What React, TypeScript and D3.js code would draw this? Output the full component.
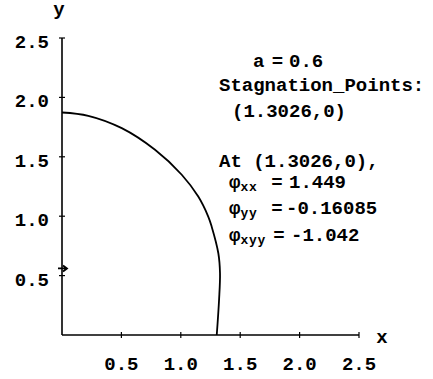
import React from "react";
import * as d3 from "d3";

// Body contour (first quadrant) for a = 0.6
const contourX = [0, 0.221, 0.503, 0.783, 1.008, 1.147, 1.231, 1.26, 1.316, 1.33, 1.322, 1.3026];
const contourY = [1.873, 1.845, 1.741, 1.559, 1.349, 1.165, 0.997, 0.912, 0.688, 0.52, 0.295, 0];

const xTicks = [0.5, 1.0, 1.5, 2.0, 2.5];
const yTicks = [0.5, 1.0, 1.5, 2.0, 2.5];
const flowArrowY = 0.56;

const W = 433;
const H = 379;
const FONT = "'Liberation Mono', 'Courier New', monospace";

export default function App() {
  const x = d3.scaleLinear().domain([0, 2.5]).range([62, 359]);
  const y = d3.scaleLinear().domain([0, 2.5]).range([335, 38]);

  const pts = contourX.map((v, i) => [v, contourY[i]] as [number, number]);
  const line = d3
    .line<[number, number]>()
    .x((d) => x(d[0]))
    .y((d) => y(d[1]))
    .curve(d3.curveCatmullRom.alpha(0.5));

  const ay = y(flowArrowY);
  const x0 = x(0);

  const txt = { fontFamily: FONT, fontWeight: 700, fontSize: 19, fill: "#000" } as const;
  const sub = { fontSize: 13, letterSpacing: 0.8 } as const;

  return (
    <div style={{ position: "absolute", left: 0, top: 0 }}>
      <svg width={W} height={H} style={{ display: "block", background: "#fff" }}>
        {/* axes */}
        <line x1={x(0)} x2={x(2.5)} y1={y(0)} y2={y(0)} stroke="#000" strokeWidth={1.6} />
        <line x1={x(0)} x2={x(0)} y1={y(0)} y2={y(2.5)} stroke="#000" strokeWidth={1.6} />
        {xTicks.map((t) => (
          <g key={"xt" + t}>
            <line x1={x(t)} x2={x(t)} y1={y(0) - 3} y2={y(0) + 3} stroke="#000" strokeWidth={1.2} />
            <text {...txt} x={x(t)} y={370} textAnchor="middle">
              {t.toFixed(1)}
            </text>
          </g>
        ))}
        {yTicks.map((t) => (
          <g key={"yt" + t}>
            <line x1={x(0) - 3} x2={x(0) + 3} y1={y(t)} y2={y(t)} stroke="#000" strokeWidth={1.2} />
            <text {...txt} x={49} y={y(t) + 10} textAnchor="end">
              {t.toFixed(1)}
            </text>
          </g>
        ))}
        <text {...txt} x={59} y={15} textAnchor="middle">y</text>
        <text {...txt} x={382} y={343} textAnchor="middle">x</text>

        {/* flow direction arrow on the axis of symmetry */}
        <path
          d={`M${x0 - 4},${ay} L${x0 + 5},${ay} M${x0 + 1},${ay - 3} L${x0 + 5},${ay} L${x0 + 1},${ay + 3}`}
          stroke="#000"
          strokeWidth={1.8}
          fill="none"
        />

        {/* body contour */}
        <path d={line(pts) || ""} fill="none" stroke="#000" strokeWidth={1.8} />

        {/* annotations */}
        <text {...txt} x={253} y={67}>a</text>
        <text {...txt} x={277.5} y={67} textAnchor="middle">=</text>
        <text {...txt} x={289} y={67}>0.6</text>
        <text {...txt} x={219} y={91}>Stagnation_Points:</text>
        <text {...txt} x={232} y={117}>(1.3026,0)</text>
        <text {...txt} x={219} y={167}>At (1.3026,0),</text>

        <text {...txt} x={229} y={188}>
          φ<tspan {...sub} dy={3}>xx</tspan>
        </text>
        <text {...txt} x={277} y={188} textAnchor="middle">=</text>
        <text {...txt} x={289} y={188}>1.449</text>

        <text {...txt} x={229} y={214}>
          φ<tspan {...sub} dy={3}>yy</tspan>
        </text>
        <text {...txt} x={277} y={214} textAnchor="middle">=</text>
        <text {...txt} x={286} y={214}>-0.16085</text>

        <text {...txt} x={229} y={241}>
          φ<tspan {...sub} dy={3}>xyy</tspan>
        </text>
        <text {...txt} x={279} y={241} textAnchor="middle">=</text>
        <text {...txt} x={291} y={241}>-1.042</text>
      </svg>
    </div>
  );
}
